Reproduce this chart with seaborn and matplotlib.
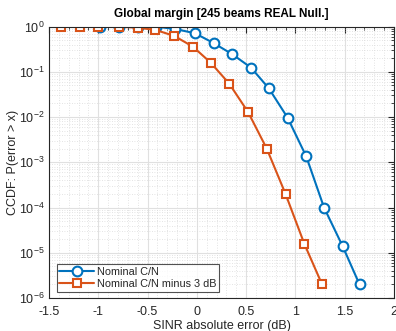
import numpy as np
import pandas as pd
import matplotlib
matplotlib.use("Agg")
import matplotlib.pyplot as plt
import seaborn as sns
from matplotlib.ticker import LogLocator, MultipleLocator, FixedLocator, NullFormatter

# Data
x_nominal = [-0.98, -0.79, -0.60, -0.41, -0.22, -0.02, 0.17, 0.36, 0.55, 0.73,
             0.92, 1.11, 1.29, 1.48, 1.65]
y_nominal = [1.0, 1.0, 1.0, 0.99, 0.88, 0.71, 0.43, 0.243, 0.123, 0.043,
             0.0097, 0.00134, 1.0e-4, 1.38e-5, 2.0e-6]
x_minus3 = [-1.38, -1.19, -1.00, -0.79, -0.60, -0.42, -0.23, -0.04, 0.14, 0.33,
            0.52, 0.71, 0.90, 1.09, 1.27]
y_minus3 = [1.0, 1.0, 0.99, 0.99, 0.94, 0.84, 0.62, 0.358, 0.159, 0.054,
            0.0128, 0.00198, 1.98e-4, 1.58e-5, 2.0e-6]
labels = ["Nominal C/N", "Nominal C/N minus 3 dB"]
x_ticks = [-1.5, -1, -0.5, 0, 0.5, 1, 1.5, 2]
x_tick_labels = ["-1.5", "-1", "-0.5", "0", "0.5", "1", "1.5", "2"]
y_ticks = [1e-6, 1e-5, 1e-4, 1e-3, 1e-2, 1e-1, 1e0]
y_tick_labels = [r"$10^{-6}$", r"$10^{-5}$", r"$10^{-4}$", r"$10^{-3}$",
                 r"$10^{-2}$", r"$10^{-1}$", r"$10^{0}$"]

sns.set_style("white")
plt.rcParams['font.family'] = ['Liberation Sans', 'DejaVu Sans']
plt.rcParams['mathtext.fontset'] = 'custom'
plt.rcParams['mathtext.rm'] = 'Liberation Sans'
plt.rcParams['mathtext.it'] = 'Liberation Sans'

df = pd.concat([
    pd.DataFrame({"x": x_nominal, "y": y_nominal, "series": labels[0]}),
    pd.DataFrame({"x": x_minus3, "y": y_minus3, "series": labels[1]}),
])

fig = plt.figure(figsize=(3.96, 3.31), dpi=100)
ax = fig.add_axes([49/396, 1 - 298/331, (394-49)/396, (298-26.5)/331])

colors = {labels[0]: "#0072BD", labels[1]: "#D95319"}
markers = {labels[0]: "o", labels[1]: "s"}
sizes = {labels[0]: 7.0, labels[1]: 6.0}
for lab in labels:
    sub = df[df["series"] == lab]
    sns.lineplot(data=sub, x="x", y="y", ax=ax, color=colors[lab], marker=markers[lab],
                 markersize=sizes[lab], markerfacecolor="white",
                 markeredgecolor=colors[lab], markeredgewidth=1.5,
                 linewidth=1.5, label=lab, estimator=None, sort=False)

ax.set_yscale("log")
ax.set_xlim(-1.5, 2)
ax.set_ylim(1e-6, 1)
ax.xaxis.set_major_locator(FixedLocator(x_ticks))
ax.set_xticklabels(x_tick_labels)
ax.xaxis.set_minor_locator(MultipleLocator(0.1))
ax.yaxis.set_major_locator(FixedLocator(y_ticks))
ax.set_yticklabels(y_tick_labels)
ax.yaxis.set_minor_locator(LogLocator(base=10, subs=np.arange(2, 10), numticks=20))
ax.yaxis.set_minor_formatter(NullFormatter())

ax.grid(True, which="major", color="#E0E0E0", linewidth=0.8, linestyle="-")
ax.grid(True, which="minor", color="#DADADA", linewidth=0.6, linestyle=(0, (1, 2)))
ax.set_axisbelow(True)

for s in ax.spines.values():
    s.set_color("#262626")
    s.set_linewidth(0.8)
ax.tick_params(which="both", direction="in", top=True, right=True,
               colors="#262626", labelsize=9)
ax.tick_params(which="major", length=4)
ax.tick_params(axis="x", which="major", pad=6)
ax.tick_params(axis="y", which="major", pad=3)
ax.tick_params(which="minor", length=2)

ax.set_title("Global margin [245 beams REAL Null.]", fontsize=8.5, fontweight="bold",
             color="black", pad=7)
ax.set_xlabel("SINR absolute error (dB)", fontsize=9, color="#262626", labelpad=1)
ax.set_ylabel("CCDF: P(error > x)", fontsize=9, color="#262626", labelpad=0)

leg = ax.legend(loc="lower left", fontsize=7.8, frameon=True, fancybox=False,
                edgecolor="#262626", handlelength=3.2, borderaxespad=0.6,
                bbox_to_anchor=(0.003, 0.0),
                borderpad=0.25, labelspacing=0.15, handletextpad=0.3)
leg.get_frame().set_linewidth(0.8)

fig.savefig("out.png", dpi=100, facecolor="white")
